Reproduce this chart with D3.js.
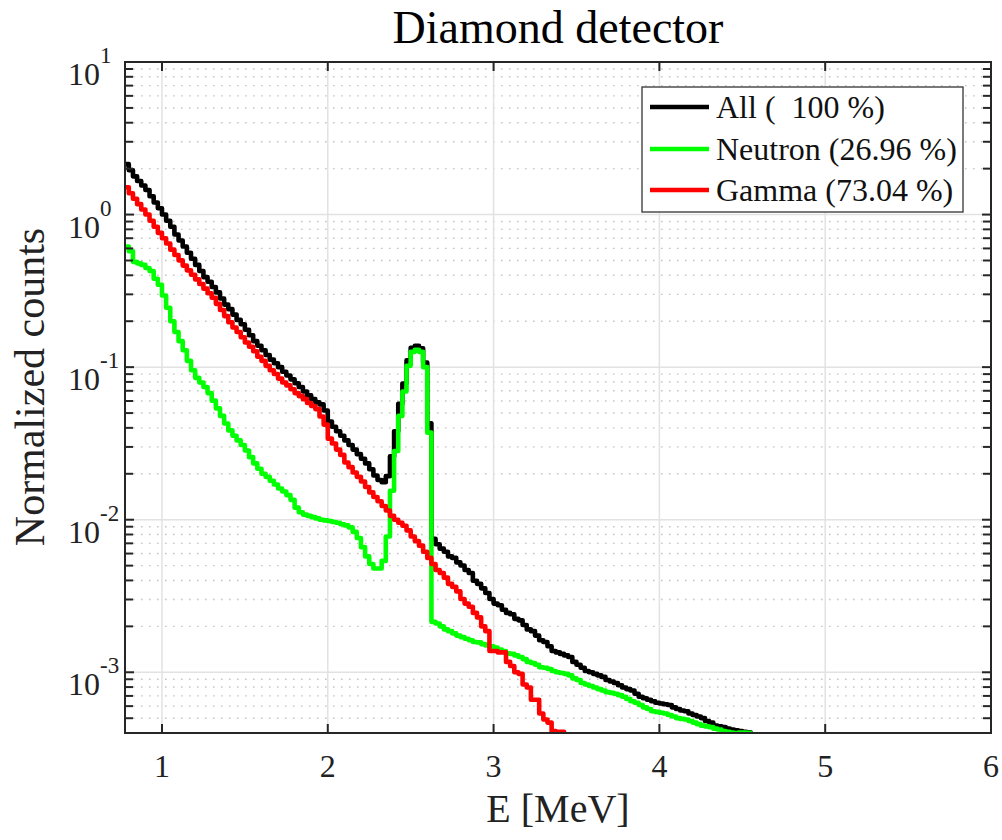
<!DOCTYPE html>
<html>
<head>
<meta charset="utf-8">
<script src="https://cdn.jsdelivr.net/npm/d3@7"></script>
<style>
  html, body { margin: 0; padding: 0; background: #fff; }
  svg { display: block; font-family: "Liberation Serif", "Times New Roman", serif; }
</style>
</head>
<body>
<svg id="chart" width="1002" height="840"></svg>
<script>
// Histogram binning (MeV)
const binStart = 0.775;
const binWidth = 0.025;

// Normalized counts per bin
const allCounts = [
  2.14,1.95,1.78,1.66,1.55,1.45,1.32,1.20,1.10,1.00,
  0.912,0.832,0.741,0.676,0.617,0.562,0.513,0.468,0.427,0.389,
  0.363,0.335,0.309,0.282,0.257,0.240,0.221,0.204,0.191,0.176,
  0.162,0.148,0.138,0.129,0.120,0.112,0.106,0.100,0.0933,0.0881,
  0.0832,0.0785,0.0741,0.0692,0.0653,0.0617,0.0589,0.0570,0.0520,0.0440,
  0.0407,0.0380,0.0355,0.0331,0.0309,0.0288,0.0269,0.0251,0.0234,0.0214,
  0.0195,0.0182,0.0176,0.0193,0.0260,0.0380,0.0575,0.0780,0.111,0.134,
  0.138,0.133,0.107,0.0428,0.0075,0.0069,0.00646,0.00617,0.00575,0.00562,
  0.00525,0.00501,0.00468,0.00447,0.00398,0.0038,0.00355,0.00331,0.00302,0.00282,
  0.00275,0.00257,0.00245,0.0024,0.00224,0.00219,0.00204,0.00191,0.00186,0.00174,
  0.00162,0.00158,0.00148,0.00138,0.00135,0.00132,0.00129,0.00126,0.00117,0.00112,
  0.00107,0.00102,0.00100,0.000977,0.000955,0.000933,0.000891,0.000871,0.000851,0.000822,
  0.000794,0.000776,0.000759,0.000724,0.000692,0.000676,0.000661,0.000646,0.000631,0.000624,
  0.000617,0.00061,0.000589,0.000575,0.000562,0.000556,0.000537,0.000525,0.000513,0.000501,
  0.000479,0.000468,0.000447,0.000442,0.000437,0.000427,0.000422,0.000417,0.000412,0.000407,
  0.000405,0.00035
];

const neutronCounts = [
  0.617,0.575,0.490,0.479,0.468,0.447,0.427,0.380,0.347,0.295,
  0.245,0.200,0.170,0.148,0.129,0.110,0.0955,0.0851,0.0794,0.0741,
  0.0676,0.0603,0.0537,0.0479,0.0427,0.0385,0.0355,0.0331,0.0309,0.0284,
  0.0257,0.0234,0.0216,0.0200,0.0191,0.0180,0.0170,0.0160,0.0153,0.0145,
  0.0135,0.0120,0.0112,0.0108,0.0106,0.0104,0.0102,0.0100,0.0099,0.0098,
  0.00966,0.00955,0.00933,0.00918,0.00891,0.00832,0.00759,0.00661,0.00575,0.00513,
  0.00479,0.00479,0.00537,0.00776,0.0155,0.0282,0.0479,0.0692,0.102,0.126,
  0.130,0.126,0.100,0.0372,0.00214,0.00209,0.00200,0.00191,0.00186,0.00180,
  0.00174,0.00170,0.00166,0.00162,0.00158,0.00157,0.00153,0.00150,0.00148,0.00145,
  0.00141,0.00138,0.00133,0.00132,0.00129,0.00126,0.00122,0.00117,0.00115,0.00112,
  0.00108,0.00107,0.00105,0.00102,0.00100,0.00099,0.000977,0.000955,0.000912,0.000891,
  0.000851,0.000832,0.000813,0.000794,0.000776,0.000759,0.000741,0.000733,0.000724,0.000708,
  0.000692,0.000668,0.000646,0.000631,0.00061,0.000589,0.000575,0.000556,0.00055,0.000543,
  0.000537,0.000525,0.000513,0.000501,0.000495,0.00049,0.000479,0.000468,0.000457,0.000447,
  0.000442,0.000437,0.000427,0.000422,0.000412,0.000407,0.000403,0.000398,0.000403,0.000403,
  0.000401,0.00035
];

const gammaCounts = [
  1.51,1.38,1.27,1.17,1.08,1.00,0.912,0.832,0.759,0.700,
  0.646,0.589,0.543,0.501,0.463,0.431,0.403,0.376,0.351,0.327,
  0.305,0.285,0.260,0.237,0.216,0.197,0.182,0.170,0.157,0.145,
  0.136,0.127,0.117,0.110,0.102,0.0955,0.0902,0.0841,0.0794,0.0759,
  0.0716,0.0676,0.0646,0.0617,0.0582,0.0556,0.0531,0.0475,0.0420,0.0340,
  0.0316,0.0288,0.0266,0.0237,0.0221,0.0204,0.0191,0.0178,0.0164,0.0151,
  0.0141,0.0132,0.0123,0.0115,0.0106,0.0100,0.00955,0.00912,0.00851,0.00776,
  0.00724,0.00676,0.00617,0.00562,0.00513,0.00468,0.00447,0.00417,0.0038,0.00363,
  0.00339,0.00302,0.00282,0.00269,0.00245,0.00229,0.00200,0.00186,0.00138,0.00138,
  0.00135,0.00135,0.00117,0.0011,0.00100,0.000977,0.000832,0.000794,0.000661,0.000661,
  0.000537,0.00049,0.000468,0.000412,0.000407,0.000407,0.0003
];

const seriesNames = ["All (  100 %)", "Neutron (26.96 %)", "Gamma (73.04 %)"];
const seriesColors = ["#000000", "#00ff00", "#ff0000"];
const xTickValues = [1, 2, 3, 4, 5, 6];
const yMajorExponents = [-3, -2, -1, 0, 1];

const svg = d3.select("#chart");
const plot = { left: 125, top: 62, right: 991, bottom: 733 };

const x = d3.scaleLinear().domain([0.777, 6]).range([plot.left, plot.right]);
const y = d3.scaleLog().domain([4e-4, 10]).range([plot.bottom, plot.top]);

// Minor decades for the y grid
const yMinor = [];
for (let e = -4; e <= 0; e++) {
  for (let m = 2; m <= 9; m++) {
    const v = m * Math.pow(10, e);
    if (v > y.domain()[0] && v < y.domain()[1]) yMinor.push(v);
  }
}
const yMajor = yMajorExponents.map(e => Math.pow(10, e));

// Grid
const grid = svg.append("g");
grid.selectAll("line.ymin").data(yMinor).enter().append("line")
  .attr("x1", plot.left).attr("x2", plot.right)
  .attr("y1", d => y(d)).attr("y2", d => y(d))
  .attr("stroke", "#c4c4c4").attr("stroke-width", 1.4)
  .attr("stroke-dasharray", "1.6,6.4");
grid.selectAll("line.ymaj").data(yMajor.filter(d => d < 10)).enter().append("line")
  .attr("x1", plot.left).attr("x2", plot.right)
  .attr("y1", d => y(d)).attr("y2", d => y(d))
  .attr("stroke", "#e2e2e2").attr("stroke-width", 1.5);
grid.selectAll("line.xmaj").data(xTickValues.filter(d => d < 6)).enter().append("line")
  .attr("x1", d => x(d)).attr("x2", d => x(d))
  .attr("y1", plot.top).attr("y2", plot.bottom)
  .attr("stroke", "#e2e2e2").attr("stroke-width", 1.5);

// Histogram step lines
const clip = svg.append("defs").append("clipPath").attr("id", "plotClip");
clip.append("rect").attr("x", plot.left).attr("y", plot.top)
  .attr("width", plot.right - plot.left).attr("height", plot.bottom - plot.top);

function stepPoints(values) {
  const pts = values.map((v, i) => [binStart + i * binWidth, v]);
  pts.push([binStart + values.length * binWidth, values[values.length - 1]]);
  return pts;
}
const line = d3.line()
  .x(d => x(d[0]))
  .y(d => y(d[1]))
  .curve(d3.curveStepAfter);

const curves = svg.append("g").attr("clip-path", "url(#plotClip)");
[allCounts, neutronCounts, gammaCounts].forEach((vals, i) => {
  curves.append("path")
    .datum(stepPoints(vals))
    .attr("d", line)
    .attr("fill", "none")
    .attr("stroke", seriesColors[i])
    .attr("stroke-width", 4.6)
    .attr("stroke-linejoin", "round")
    .attr("stroke-linecap", "round");
});

// Axes frame and ticks (inward)
const axisColor = "#262626";
const ax = svg.append("g");
const tickLen = 9;
const minorLen = 8;

ax.selectAll("line.xtb").data(xTickValues).enter().append("line")
  .attr("x1", d => x(d)).attr("x2", d => x(d))
  .attr("y1", plot.bottom).attr("y2", plot.bottom - tickLen)
  .attr("stroke", axisColor).attr("stroke-width", 2);
ax.selectAll("line.xtt").data(xTickValues).enter().append("line")
  .attr("x1", d => x(d)).attr("x2", d => x(d))
  .attr("y1", plot.top).attr("y2", plot.top + tickLen)
  .attr("stroke", axisColor).attr("stroke-width", 2);

[[plot.left, 1], [plot.right, -1]].forEach(([xp, dir]) => {
  ax.selectAll(null).data(yMajor).enter().append("line")
    .attr("x1", xp).attr("x2", xp + dir * tickLen)
    .attr("y1", d => y(d)).attr("y2", d => y(d))
    .attr("stroke", axisColor).attr("stroke-width", 2);
  ax.selectAll(null).data(yMinor).enter().append("line")
    .attr("x1", xp).attr("x2", xp + dir * minorLen)
    .attr("y1", d => y(d)).attr("y2", d => y(d))
    .attr("stroke", axisColor).attr("stroke-width", 2);
});

ax.append("rect")
  .attr("x", plot.left).attr("y", plot.top)
  .attr("width", plot.right - plot.left).attr("height", plot.bottom - plot.top)
  .attr("fill", "none").attr("stroke", axisColor).attr("stroke-width", 2);

// Tick labels
svg.selectAll("text.xt").data(xTickValues).enter().append("text")
  .attr("x", d => x(d)).attr("y", 777)
  .attr("text-anchor", "middle")
  .attr("font-size", 32).attr("fill", "#222")
  .text(d => d);

// y labels: mantissa "10" plus superscript exponent
svg.selectAll("text.ym").data(yMajorExponents).enter().append("text")
  .attr("x", 100).attr("y", d => y(Math.pow(10, d)) + 23)
  .attr("text-anchor", "end")
  .attr("font-size", 32).attr("fill", "#222")
  .text("10");
svg.selectAll("text.ye").data(yMajorExponents).enter().append("text")
  .attr("x", 100).attr("y", d => y(Math.pow(10, d)) + 1)
  .attr("text-anchor", "start")
  .attr("font-size", 23).attr("fill", "#222")
  .text(d => d < 0 ? "-" + Math.abs(d) : String(d));

// Titles
svg.append("text")
  .attr("x", 558).attr("y", 43)
  .attr("text-anchor", "middle")
  .attr("font-size", 46).attr("fill", "#000")
  .text("Diamond detector");

svg.append("text")
  .attr("x", 558).attr("y", 822)
  .attr("text-anchor", "middle")
  .attr("font-size", 40).attr("fill", "#222")
  .text("E [MeV]");

svg.append("text")
  .attr("transform", "translate(44,387) rotate(-90)")
  .attr("text-anchor", "middle")
  .attr("font-size", 42).attr("fill", "#222")
  .text("Normalized counts");

// Legend
const lg = svg.append("g");
lg.append("rect")
  .attr("x", 642).attr("y", 87).attr("width", 321).attr("height", 125)
  .attr("fill", "#fff").attr("stroke", "#333").attr("stroke-width", 1.3);
const rowY = [107, 149, 190];
seriesNames.forEach((name, i) => {
  lg.append("line")
    .attr("x1", 650).attr("x2", 709)
    .attr("y1", rowY[i]).attr("y2", rowY[i])
    .attr("stroke", seriesColors[i]).attr("stroke-width", 4.6);
  lg.append("text")
    .attr("x", 716).attr("y", rowY[i] + 11)
    .attr("font-size", 32).attr("fill", "#111")
    .style("white-space", "pre")
    .attr("xml:space", "preserve")
    .text(name);
});
</script>
</body>
</html>
